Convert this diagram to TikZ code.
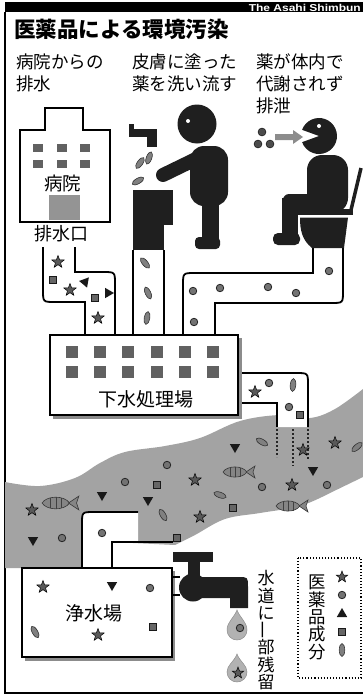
\documentclass[tikz,border=0pt]{standalone}
\usepackage{fontspec}
\usepackage{graphicx}
\newfontfamily\jp{Noto Sans CJK JP}
\setsansfont{Liberation Sans}
\usetikzlibrary{shapes.geometric}

\tikzset{
  wall/.style={line width=1.8pt, draw=black},
  boxline/.style={line width=2pt, draw=black, fill=white},
  boxshadow/.style={fill=black!45},
  win/.style={fill=black!62},
  silhouette/.style={fill=black!88},
  river/.style={fill=black!36},
  pstar/.style={star, star points=5, star point ratio=2.4, minimum size=13pt, inner sep=0pt, fill=black!65, draw=black, line width=0.5pt},
  pdot/.style={circle, minimum size=7.5pt, inner sep=0pt, fill=black!55, draw=black!85, line width=0.8pt},
  ptri/.style={regular polygon, regular polygon sides=3, minimum size=12pt, inner sep=0pt, fill=black!90},
  psq/.style={rectangle, minimum size=6.5pt, inner sep=0pt, fill=black!60, draw=black!90, line width=0.8pt},
  pcap/.style={ellipse, minimum width=5.5pt, minimum height=13pt, inner sep=0pt, fill=black!50, draw=black!80, line width=0.6pt},
  caption/.style={font=\jp\fontsize{17.5}{20}\selectfont, inner sep=0pt, anchor=west},
  boxtext/.style={font=\jp\fontsize{19}{21}\selectfont, inner sep=0pt},
  vchar/.style={font=\jp\fontsize{17}{18}\selectfont, inner sep=0pt},
  fish/.pic={
    \filldraw[fill=black!48, draw=black!78, line width=0.6pt]
      (-13,0) .. controls (-9,-6.5) and (6,-7) .. (11,0)
      .. controls (6,7) and (-9,6.5) .. (-13,0) -- cycle;
    \filldraw[fill=black!48, draw=black!78, line width=0.6pt]
      (10,0) -- (19,-6) -- (17,0) -- (19,6) -- cycle;
    \draw[black!75, line width=0.5pt] (-6,-4) -- (-6,4) (-1,-5) -- (-1,5) (4,-4.5) -- (4,4.5);
  }
}

\begin{document}
\begin{tikzpicture}[x=1pt,y=-1pt]
\useasboundingbox (0,0) rectangle (363,696);

% header bar and frame
\fill (5,2) rectangle (363,12);
\node[font=\sffamily\bfseries\fontsize{10}{10}\selectfont, text=white, anchor=east, inner sep=0pt]
  (paper) at (361,7.6) {\scalebox{1.2}[1]{The Asahi Shimbun}};
\draw[line width=1.2pt] (5,12) -- (5,693) -- (363,693);

% title and captions
\node[font=\jp\bfseries\fontsize{21.5}{24}\selectfont, inner sep=0pt, anchor=west] (title) at (14,29) {医薬品による環境汚染};
\node[caption] (c1a) at (16,62) {病院からの};
\node[caption] (c1b) at (16,84) {排水};
\node[caption] (c2a) at (132,62) {皮膚に塗った};
\node[caption] (c2b) at (132,84) {薬を洗い流す};
\node[caption] (c3a) at (256,62) {薬が体内で};
\node[caption] (c3b) at (256,84) {代謝されず};
\node[caption] (c3c) at (256,106) {排泄};

% river
\fill[river] plot[smooth, tension=0.6] coordinates {(5,482) (40,486) (75,478) (100,463) (125,452) (165,446) (200,438) (240,421) (280,415) (310,418) (335,409) (363,389)}
  -- (363,477)
  -- plot[smooth, tension=0.6] coordinates {(330,493) (300,506) (260,513) (225,519) (195,535) (175,545)}
  -- (112,542) -- (112,568) -- (5,568) -- cycle;

% hospital drain pipe
\fill[white] (43,247) -- (43,290) .. controls (43,302) .. (55,302) -- (85,302) -- (85,336)
  -- (115,336) -- (115,284) .. controls (115,272) .. (103,272) -- (75,272) -- (75,247) -- cycle;
\draw[wall] (43,247) -- (43,290) .. controls (43,302) .. (55,302) -- (85,302) -- (85,336);
\draw[wall] (75,247) -- (75,272) -- (103,272) .. controls (115,272) .. (115,284) -- (115,336);

% sink drain pipe
\draw[wall] (133,250) -- (133,336) (164,250) -- (164,336);

% toilet drain pipe
\draw[wall] (313,247) -- (313,273) -- (195,273) .. controls (183,273) .. (183,285) -- (183,336);
\draw[wall] (343,247) -- (343,291) .. controls (343,303) .. (331,303) -- (215,303) -- (215,336);

% outlet pipe into the river
\fill[white] (238,373) -- (296,373) .. controls (308,373) .. (308,385) -- (308,427) -- (277,427) -- (277,403) -- (238,403) -- cycle;
\draw[wall] (238,373) -- (296,373) .. controls (308,373) .. (308,385) -- (308,427);
\draw[wall] (238,403) -- (277,403) -- (277,427);
\draw[black!85, line width=2.6pt, dash pattern=on 2pt off 2pt] (277,429) -- (277,457) (293,429) -- (293,466) (308,429) -- (308,460);

% intake pipe to the purification plant
\fill[white] (82,570) -- (82,524) .. controls (82,512) .. (94,512) -- (138,512) -- (138,542) -- (112,542) -- (112,570) -- cycle;
\draw[wall] (82,568) -- (82,524) .. controls (82,512) .. (94,512) -- (138,512);
\draw[wall] (112,568) -- (112,542) -- (173,542);

% sewage treatment plant
\fill[boxshadow] (53,338) rectangle (242,419);
\filldraw[boxline] (50,335) rectangle (238,415);
\foreach \cx in {72,100,128,157,185,213}
  \foreach \cy in {352,372}
    \fill[win] (\cx-6,\cy-6) rectangle (\cx+6,\cy+6);
\node[boxtext] (plant) at (146,399) {下水処理場};

% purification plant
\fill[boxshadow] (25,571) rectangle (175,661);
\filldraw[boxline] (22,568) rectangle (172,657);
\node[boxtext] (purifier) at (94,613) {浄水場};

% hospital
\draw[line width=2pt, fill=white] (20,222) -- (20,130) -- (45,130) -- (45,108) -- (83,108) -- (83,130) -- (110,130) -- (110,222) -- cycle;
\foreach \cx in {38,62,85}
  \foreach \cy in {147.5,164}
    \fill[win] (\cx-5,\cy-4) rectangle (\cx+5,\cy+4);
\fill[black!42] (49,195) rectangle (80,220);
\node[font=\jp\fontsize{18.5}{20}\selectfont, inner sep=0pt] (hospital) at (62.5,183) {病院};
\node[font=\jp\fontsize{18}{20}\selectfont, inner sep=0pt] (outlet) at (61,234) {排水口};

% sink and faucet
\fill[silhouette] (133,190) rectangle (173,225);
\fill[silhouette] (133,224) rectangle (164,250);
\fill[silhouette] (129,124) rectangle (134,137);
\fill[silhouette] (129,129) rectangle (157,137);
\fill[silhouette] (147,136) rectangle (157,147);
\node[pcap, rotate=-35] at (140,163) {};
\node[pcap, rotate=-20] at (149,158) {};
\node[pcap, rotate=-60] at (138,181) {};

% person washing hands
\fill[silhouette] (197,124) circle (19.5);
\fill[white] (188,121) circle (2);
\fill[silhouette, rounded corners=14pt] (190,146) rectangle (228,206);
\draw[black!88, line width=14pt, line cap=round] (198,158) -- (163,175);
\fill[silhouette] (202,198) rectangle (219,243);
\fill[silhouette, rounded corners=4pt] (195,237) rectangle (220,249);

% person on the toilet
\fill[silhouette] (319,136) -- ++(200:18) arc (200:520:18) -- cycle;
\fill[white] (319,126) circle (2);
\fill[silhouette, rounded corners=15pt] (307,155) rectangle (348,213);
\fill[silhouette, rounded corners=6pt] (283,194) rectangle (332,214);
\fill[silhouette] (282,198) rectangle (298,240);
\fill[silhouette, rounded corners=5pt] (273,233) rectangle (300,245);
\fill[silhouette] (297,209) rectangle (353,215);
\fill[silhouette] (300,217.5) -- (348,217.5) -- (344,248) -- (312,248) .. controls (302,240) and (300,230) .. (300,217.5) -- cycle;
\draw[black!88, line width=3.5pt] (351,210) -- (361,168);
% pills and arrow towards the mouth
\foreach \p in {(262,132),(258,144),(270,144)}
  \filldraw[fill=black!70, draw=black] \p circle (4);
\fill[black!45] (275,134) -- (293,134) -- (293,130) -- (303,137) -- (293,144) -- (293,140) -- (275,140) -- cycle;

% tap
\fill[silhouette] (173,552) rectangle (213,562);
\fill[silhouette] (188,561) rectangle (200,578);
\fill[silhouette] (192,577) -- (238,577) .. controls (248,577) .. (248,587) -- (248,608) -- (230,608) -- (230,598) -- (192,598) -- cycle;
\fill[silhouette] (193,587.5) circle (14);
\draw[wall] (172,577) -- (180,577) (172,595) -- (180,595);
% drops from the tap
\filldraw[fill=black!30, draw=black!45, line width=0.5pt] (237,610) .. controls (240,618) and (247,622) .. (247,630) arc (0:180:10) .. controls (227,622) and (234,618) .. (237,610) -- cycle;
\filldraw[fill=black!30, draw=black!45, line width=0.5pt] (237,654) .. controls (240,662) and (247,665) .. (247,672) arc (0:180:10) .. controls (227,665) and (234,662) .. (237,654) -- cycle;
\node[pdot] at (240,628) {};
\node[pstar, minimum size=12pt] at (238,673) {};

% vertical captions
\foreach \c [count=\i] in {水,道,に,{\rotatebox[origin=c]{90}{一}},部,残,留}
  \node[vchar] (v\i) at (266,578.5+17.2*\i-17.2) {\c};
\draw[dotted, line width=1.1pt] (298,558) rectangle (361,678);
\foreach \c [count=\i] in {医,薬,品,成,分}
  \node[vchar, font=\jp\fontsize{17.4}{18}\selectfont] (k\i) at (317,582+17.4*\i-17.4) {\c};
\node[pstar, minimum size=12pt] at (342,577) {};
\node[pdot] at (342,595) {};
\node[ptri] at (342,614) {};
\node[psq] at (342,632) {};
\node[pcap] at (342,650) {};

% medicine particles: stars
\foreach \p in {(58,262),(70,290),(98,318),(255,392),(32,510),(303,450),(335,443),(195,480),(292,485),(200,517),(43,587),(98,635)}
  \node[pstar] at \p {};
% dots
\foreach \p in {(193,291),(220,288),(268,287),(296,293),(329,271),(194,322),(269,383),(289,407),(167,465),(125,482),(62,538),(102,533),(262,487),(327,485),(150,588)}
  \node[pdot] at \p {};
% downward triangles
\foreach \p in {(102,495),(148,500),(33,540),(235,447),(313,470),(112,585)}
  \node[ptri, rotate=180] at \p {};
\node[ptri, rotate=200] at (85,282) {};
\node[ptri, rotate=-90] at (108,293) {};
% squares
\foreach \p in {(53,280),(95,298),(300,415),(157,485),(177,538),(233,508),(153,627)}
  \node[psq] at \p {};
% capsules
\node[pcap, rotate=40] at (145,263) {};
\node[pcap, rotate=25] at (148,293) {};
\node[pcap, rotate=-10] at (147,318) {};
\node[pcap, rotate=-5] at (293,385) {};
\node[pcap, rotate=60] at (262,442) {};
\node[pcap, rotate=70] at (220,495) {};
\node[pcap, rotate=-50] at (357,447) {};
\node[pcap, rotate=30] at (163,515) {};
\node[pcap, rotate=30] at (35,632) {};

% fish
\pic[scale=1.15] at (57,503) {fish};
\pic at (236,472) {fish};
\pic at (289,506) {fish};
\end{tikzpicture}
\end{document}
